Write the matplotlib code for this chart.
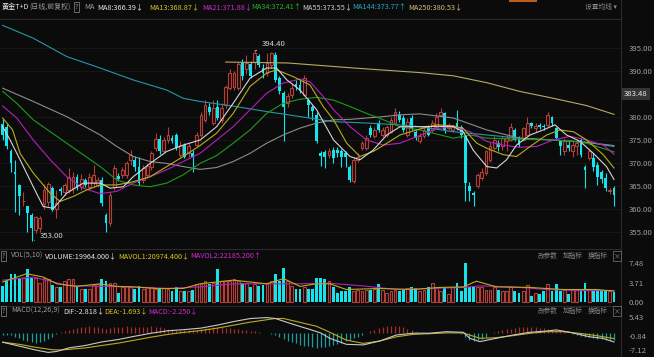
import matplotlib
matplotlib.use("Agg")
import matplotlib.pyplot as plt
from matplotlib.lines import Line2D
import numpy as np

plt.rcParams['font.family'] = ['Noto Sans CJK SC', 'DejaVu Sans']

# ---- daily candles (黄金T+D) ----
opens = [378.5, 377.9, 372.5, 368.1, 365.2, 361.6, 360.5, 358.7, 355.4, 355.8,
         361.0, 361.5, 364.5, 360.0, 364.3, 363.7, 364.0, 364.5, 367.0, 364.8,
         366.3, 364.8, 365.6, 365.2, 366.3, 358.6, 356.9, 364.8, 367.2, 367.4,
         367.4, 370.7, 370.7, 369.2, 366.3, 367.4, 369.2, 373.2, 375.3, 372.5,
         375.0, 375.4, 376.1, 371.8, 374.0, 372.1, 372.1, 374.0, 376.1, 379.4,
         382.3, 378.7, 382.3, 379.4, 382.6, 386.3, 386.6, 386.3, 391.9, 390.4,
         391.5, 392.0, 393.3, 390.7, 389.6, 391.4, 393.6, 388.5, 385.2, 383.0,
         384.8, 387.2, 387.0, 384.8, 383.7, 382.1, 380.5, 372.1, 372.3, 371.8,
         372.8, 372.8, 372.5, 372.1, 369.2, 366.0, 370.7, 373.2, 373.2, 377.6,
         375.9, 378.7, 376.1, 376.1, 376.8, 378.7, 380.5, 379.8, 376.1, 379.8,
         376.8, 374.7, 375.8, 377.9, 377.2, 377.9, 380.5, 380.8, 377.6, 377.2,
         378.7, 377.9, 375.8, 364.9, 363.4, 364.9, 366.7, 367.8, 370.7, 373.2,
         374.3, 373.6, 374.7, 375.0, 377.2, 375.4, 375.0, 376.1, 378.7, 377.6,
         378.2, 378.1, 378.3, 380.0, 377.6, 374.7, 372.5, 374.0, 372.5, 373.7,
         375.0, 369.2, 371.0, 371.0, 369.6, 368.1, 366.7, 363.8, 364.5]
highs = [379.5, 378.5, 373.0, 370.7, 365.5, 363.7, 360.6, 359.0, 358.5, 358.5,
         365.5, 365.8, 365.0, 364.0, 364.8, 365.7, 368.8, 368.0, 367.5, 367.6,
         366.7, 367.8, 369.6, 367.0, 367.0, 359.0, 363.7, 369.6, 367.8, 369.2,
         370.5, 372.8, 371.5, 371.4, 369.5, 370.0, 372.5, 376.5, 376.0, 375.7,
         377.9, 376.0, 376.5, 374.7, 374.3, 374.3, 372.8, 376.8, 381.2, 383.7,
         383.0, 383.7, 383.7, 383.0, 387.0, 390.4, 390.0, 392.0, 392.6, 393.6,
         392.3, 394.4, 393.8, 391.5, 393.9, 394.2, 394.3, 389.0, 385.6, 385.2,
         387.4, 388.0, 388.1, 389.2, 384.2, 382.6, 381.2, 372.6, 372.8, 373.2,
         373.5, 373.5, 373.0, 372.6, 369.6, 371.4, 372.1, 374.7, 376.1, 378.3,
         377.9, 379.4, 377.9, 378.3, 380.1, 381.9, 381.4, 380.5, 379.8, 380.5,
         377.2, 376.5, 377.9, 378.3, 379.4, 380.8, 381.9, 381.2, 378.7, 378.3,
         381.6, 378.3, 376.1, 365.9, 363.8, 367.7, 368.8, 372.8, 374.6, 375.8,
         375.0, 375.8, 376.1, 378.7, 377.6, 375.8, 377.9, 380.1, 379.0, 378.7,
         378.7, 378.5, 381.2, 380.3, 377.9, 375.0, 375.4, 374.7, 375.0, 375.0,
         375.4, 369.6, 372.8, 372.1, 370.3, 368.5, 367.8, 364.5, 364.9]
lows = [375.0, 373.0, 368.0, 359.4, 358.7, 360.5, 355.0, 353.0, 354.7, 355.0,
        360.0, 360.5, 359.5, 358.0, 363.0, 363.0, 363.4, 363.5, 364.0, 364.2,
        364.8, 364.0, 364.8, 364.7, 360.5, 355.0, 356.2, 364.2, 366.0, 366.8,
        366.8, 369.6, 368.3, 365.2, 365.6, 366.8, 368.5, 372.5, 372.0, 372.1,
        374.3, 374.3, 372.8, 371.4, 371.0, 371.4, 368.1, 373.6, 375.7, 379.0,
        380.5, 378.3, 379.4, 378.7, 382.0, 385.9, 386.0, 385.9, 388.0, 389.3,
        388.5, 390.5, 391.0, 388.6, 388.9, 390.7, 387.6, 385.0, 374.7, 382.3,
        384.2, 386.0, 385.2, 384.5, 380.1, 379.4, 374.3, 369.3, 368.8, 371.0,
        370.0, 371.4, 369.2, 369.2, 365.8, 365.6, 370.3, 372.8, 372.8, 375.7,
        375.4, 376.8, 375.7, 375.7, 376.5, 378.3, 379.0, 376.8, 375.7, 377.2,
        375.0, 374.3, 375.4, 375.8, 376.8, 377.6, 380.1, 376.5, 377.2, 376.8,
        377.2, 375.4, 361.6, 361.6, 360.5, 364.5, 366.3, 367.4, 370.3, 372.8,
        372.5, 372.8, 372.5, 374.7, 374.7, 373.4, 374.7, 375.8, 377.6, 376.8,
        377.4, 377.2, 377.9, 378.0, 375.0, 371.8, 371.8, 372.5, 371.4, 371.8,
        371.4, 364.5, 370.7, 368.2, 365.2, 365.6, 363.8, 363.2, 360.5]
closes = [376.0, 373.6, 370.0, 367.6, 362.7, 361.8, 359.0, 355.8, 358.3, 357.9,
          364.0, 365.3, 359.8, 361.2, 363.8, 365.2, 367.0, 367.0, 364.5, 366.6,
          365.2, 367.0, 367.4, 366.3, 361.2, 356.9, 363.0, 368.9, 366.5, 368.5,
          369.9, 371.7, 369.2, 365.6, 368.8, 369.4, 372.1, 375.3, 372.5, 375.0,
          376.0, 374.7, 373.2, 374.0, 371.4, 373.6, 371.4, 376.1, 380.5, 382.6,
          381.2, 381.9, 379.8, 381.9, 386.6, 389.6, 389.6, 391.5, 389.0, 391.7,
          389.0, 394.0, 391.4, 389.6, 391.7, 393.9, 388.1, 385.6, 382.3, 384.6,
          386.3, 386.6, 385.6, 388.5, 382.7, 381.4, 374.7, 371.5, 371.4, 372.5,
          371.0, 372.1, 371.4, 371.4, 366.3, 370.7, 371.4, 374.3, 375.4, 376.1,
          377.2, 377.2, 377.2, 377.9, 379.4, 381.2, 379.4, 377.2, 379.0, 377.6,
          375.4, 375.8, 377.2, 376.1, 378.7, 380.1, 381.2, 377.2, 378.3, 377.9,
          377.6, 376.1, 365.6, 363.8, 363.0, 367.4, 368.1, 372.5, 373.6, 375.0,
          373.4, 375.4, 375.4, 377.9, 375.0, 373.9, 377.6, 378.7, 378.1, 378.1,
          377.8, 377.8, 380.5, 378.7, 375.4, 373.6, 374.7, 373.2, 374.0, 374.4,
          371.8, 368.5, 372.5, 369.2, 367.0, 366.5, 364.5, 364.2, 363.1]

# volume, in units of 10k
volume = [3.1, 4.0, 5.3, 5.3, 4.7, 4.6, 6.3, 4.7, 4.7, 3.7,
          4.7, 4.4, 3.3, 2.8, 2.8, 4.0, 4.4, 4.4, 2.8, 2.5,
          2.5, 2.5, 3.3, 3.4, 4.4, 4.0, 3.7, 3.7, 1.8, 2.8,
          3.1, 2.8, 2.5, 3.1, 2.5, 2.8, 2.8, 2.5, 2.6, 2.6,
          2.5, 2.2, 2.8, 2.2, 2.1, 2.2, 2.4, 3.4, 3.4, 4.0,
          3.4, 3.7, 6.3, 4.0, 4.0, 4.0, 4.4, 4.0, 3.7, 3.7,
          2.8, 3.4, 3.1, 3.2, 3.4, 4.0, 5.3, 4.0, 6.6, 4.0,
          3.1, 2.5, 2.5, 2.8, 2.5, 2.5, 4.7, 4.7, 4.4, 4.0,
          2.8, 1.8, 2.2, 2.1, 2.8, 2.1, 2.4, 2.1, 2.4, 2.4,
          2.5, 3.5, 2.4, 1.8, 2.1, 2.4, 2.1, 2.4, 2.6, 2.9,
          2.6, 2.1, 2.4, 2.8, 3.7, 2.8, 2.2, 2.6, 1.5, 2.8,
          3.7, 2.1, 7.5, 2.9, 3.1, 2.8, 2.9, 2.4, 2.4, 2.9,
          2.4, 2.2, 2.1, 2.8, 2.1, 1.8, 2.2, 3.2, 1.2, 1.8,
          1.5, 2.2, 3.4, 2.2, 3.4, 2.1, 2.4, 1.5, 2.4, 2.4,
          2.2, 3.7, 2.4, 2.4, 2.4, 2.2, 2.2, 2.1, 2.0]

macd_hist = [-0.4, -0.5, -0.6,
             -1.0, -1.5, -2.0, -2.5, -2.9, -3.0, -2.8, -2.4, -1.8, -1.0,
             -0.3,
             0.4, 0.9, 1.3, 1.6, 1.9, 2.1, 2.3, 2.4, 2.3, 2.1, 1.8, 1.6,
             1.8, 2.0, 2.2, 2.3, 2.4, 2.3, 2.2, 2.0, 2.1, 2.3, 2.4, 2.2, 2.0, 1.8, 1.6,
             1.4, 1.3, 1.2, 1.1, 1.0, 1.1, 1.3, 1.5, 1.7, 1.9, 2.0, 2.1, 2.0, 1.9, 1.8,
             1.6, 1.5, 1.3, 1.1, 0.9, 0.7, 0.5, 0.3, 0.1, -0.1,
             -0.6, -1.2, -1.8, -2.4, -2.9, -3.3, -3.7, -4.0, -4.3, -4.5, -4.7, -4.6, -4.4, -4.2,
             -3.8, -3.4, -3.0, -2.5, -2.0, -1.5, -1.0, -0.5,
             0.3, 0.8, 1.3, 1.8, 2.2, 2.5, 2.6, 2.6, 2.4, 2.0, 1.5, 1.0, 0.6,
             0.3, 0.2, -0.1, 0.2, 0.3, 0.4, 0.2, 0.1, 0.2, 0.1, -0.2,
             -1.2, -2.0, -2.4, -2.3, -1.8, -1.0,
             0.2, 0.5, 0.8, 1.1, 1.4, 1.6, 1.8, 2.0, 2.1, 2.2, 2.2, 2.1, 1.9, 1.7, 1.5, 1.3, 1.0, 0.7, 0.4, 0.1,
             -0.2, -0.4, -0.7, -1.0, -1.2, -1.5, -1.7, -1.9, -2.0, -2.1, -2.25]

# moving average lines (candle index, value)
ma8_x = [0, 1.8, 4.2, 7.4, 9.8, 12.3, 15.5, 19.5, 23.6, 26, 29.2, 31.6, 35.7, 39.7, 43.7, 47.8,
         51.8, 55.8, 59.9, 63.9, 66.3, 68.8, 72, 76, 80.1, 84.1, 86.5, 89.7, 93, 96.2, 101, 105,
         109.1, 111.5, 113.9, 117.2, 119.6, 122, 124.4, 127.7, 130.9, 133.7, 136.5, 139.8, 143, 146.2, 148]
ma8_y = [377.9, 375.0, 370.7, 364.8, 360.5, 360.1, 363.4, 365.6, 365.6, 364.5, 364.8, 367.0, 369.9, 372.5, 373.9, 375.0,
         377.9, 383.0, 388.5, 390.7, 390.7, 388.1, 385.9, 381.6, 375.0, 371.4, 370.7, 372.8, 376.1, 377.9, 377.9, 378.0,
         377.9, 376.8, 372.8, 369.2, 368.9, 370.7, 373.9, 376.1, 377.2, 378.3, 376.1, 374.7, 372.1, 369.2, 366.4]
ma13_x = [0, 2.4, 4.2, 7.4, 11.5, 13.9, 17.1, 20.3, 23.6, 27.6, 31.6, 35.7, 39.7, 43.7, 47.8, 51.8, 55.8,
          59.9, 63.9, 66.3, 70.4, 74.4, 77.6, 80.1, 83.3, 86.5, 89.7, 93, 96.2, 101, 105.1, 109.1, 111.5,
          114.8, 117.2, 121.2, 124.4, 127.7, 131.7, 134.9, 138.2, 141.4, 145.4, 148]
ma13_y = [379.8, 377.2, 372.1, 367.8, 363.4, 361.6, 362.7, 364.1, 365.2, 365.2, 365.9, 367.0, 369.2, 371.4, 373.8, 376.5, 380.8,
          386.7, 389.6, 390.3, 388.8, 387.0, 382.3, 379.4, 374.3, 371.4, 372.5, 374.3, 376.1, 377.4, 378.3, 378.1, 377.5,
          374.3, 373.2, 371.8, 371.4, 373.6, 376.1, 377.2, 376.8, 375.0, 371.8, 368.9]
ma21_x = [0, 3.4, 7.4, 11.5, 15.5, 19.5, 23.6, 27.6, 31.6, 35.7, 39.7, 43.7, 47.8, 51.8, 55.8, 59.9, 63.9,
          67.9, 72, 74.4, 77.6, 80.1, 84.1, 88.1, 92.2, 96.2, 101, 105.1, 109.1, 113.2, 117.2, 121.2, 125.2,
          129.3, 133.3, 137.4, 141.4, 145.4, 148]
ma21_y = [382.4, 379.8, 375.0, 370.7, 367.0, 364.5, 363.3, 363.8, 365.6, 367.0, 368.5, 370.3, 372.1, 375.0, 377.9, 381.6, 385.2,
          387.4, 388.3, 387.7, 384.5, 381.6, 377.9, 375.0, 373.9, 374.3, 376.0, 377.5, 377.9, 376.8, 374.7, 373.9, 373.4,
          373.6, 375.0, 375.8, 375.0, 373.9, 371.9]
ma34_x = [0, 3.4, 7.4, 15.5, 23.6, 27.6, 31.6, 35.7, 39.7, 43.7, 47.8, 51.8, 55.8, 59.9, 63.9, 67.9, 72,
          76, 80.1, 84.1, 88.1, 92.2, 96.2, 101, 105.1, 109.1, 113.2, 117.2, 125.2, 133.3, 137.4, 141.4, 148]
ma34_y = [385.6, 383.0, 379.4, 374.3, 369.2, 366.3, 365.2, 364.8, 365.6, 367.4, 369.9, 371.6, 374.3, 377.2, 380.8, 383.0, 383.9,
          384.3, 383.7, 382.3, 380.8, 379.4, 377.9, 377.2, 376.3, 375.4, 376.1, 375.4, 375.2, 375.0, 374.8, 374.3, 372.4]
ma55_x = [0, 7.4, 15.5, 23.6, 27.6, 31.6, 35.7, 39.7, 43.7, 47.8, 51.8, 55.8, 59.9, 63.9, 67.9, 72, 76,
          80.1, 84.1, 88.1, 92.2, 96.2, 101, 109.1, 117.2, 125.2, 133.3, 141.4, 148]
ma55_y = [386.3, 383.4, 380.1, 376.1, 373.6, 371.4, 370.3, 369.9, 369.2, 368.6, 369.0, 370.3, 372.1, 374.3, 376.1, 377.6, 378.7,
          379.4, 379.5, 379.8, 380.1, 380.5, 380.7, 379.8, 377.2, 375.4, 375.0, 374.5, 373.6]
ma144_x = [0, 7.4, 15.5, 23.6, 31.6, 39.7, 43.7, 47.8, 55.8, 63.9, 72, 80.1, 88.1, 96.2, 101, 109.1, 117.2,
           125.2, 133.3, 141.4, 148]
ma144_y = [400.0, 397.2, 393.2, 390.7, 388.1, 385.9, 384.1, 383.4, 382.4, 381.2, 380.1, 379.0, 378.7, 378.3, 377.9, 376.8, 376.1,
           375.4, 375.0, 374.5, 373.8]
ma250_x = [54, 69, 85, 101, 109.1, 117.2, 125.2, 133.3, 141.4, 148]
ma250_y = [392.0, 391.8, 390.7, 389.7, 389.0, 387.5, 385.6, 384.1, 382.5, 380.6]

mavol1_x = [0, 5.8, 9.8, 13.1, 17.9, 23.6, 27.6, 31.6, 37.3, 43.7, 47.8, 51.8, 55.8, 59.9, 63.9,
            68, 72, 76, 79.2, 83.2, 91.3, 99.4, 105.8, 111.5, 114.7, 119.6, 127.6, 135.6, 143.7, 148]
mavol1_y = [3.85, 5.45, 4.8, 3.5, 3.0, 3.5, 3.0, 2.9, 2.6, 2.6, 3.5, 3.85, 4.2, 3.85, 3.5,
            4.5, 3.0, 3.5, 3.5, 2.4, 2.6, 2.4, 2.8, 2.9, 4.0, 2.9, 2.8, 2.4, 2.4, 2.1]
mavol2_x = [0, 7.4, 15.5, 23.6, 31.6, 39.7, 47.8, 55.8, 63.9, 72, 79.2, 87.3, 95.3, 103.4, 111.5,
            115.5, 123.6, 131.6, 139.7, 148]
mavol2_y = [4.2, 4.8, 3.2, 3.0, 2.9, 2.6, 2.9, 3.5, 3.5, 3.5, 3.6, 3.1, 2.4, 2.6, 2.8,
            3.1, 2.9, 2.4, 2.2, 2.22]

dif_x = [0, 4, 8, 11, 13, 16, 20, 24, 28, 32, 36, 40, 44, 48, 52, 56, 60, 64, 66, 70, 74, 77,
         79.2, 83.2, 87.3, 91.3, 95.3, 99.4, 103.4, 107.4, 111.5, 113.1, 115.5, 119.5, 123.6,
         127.6, 131.6, 134, 137.3, 142.1, 145.3, 148]
dif_y = [-2.9, -4.2, -5.5, -6.3, -6.0, -4.8, -4.0, -2.8, -2.0, -0.9, 0.1, 0.9, 1.3, 1.8, 2.8, 4.0, 5.0, 5.3, 5.0, 3.2, 1.5, 0.2,
         -1.6, -3.6, -3.8, -2.5, -0.5, 0.1, 0.1, 0.6, 0.4, -1.6, -2.7, -1.6, -0.5,
         0.4, 0.8, 1.2, 0.4, -1.1, -1.6, -2.82]
dea_x = [0, 4, 8, 12, 14, 16, 20, 24, 28, 32, 36, 40, 44, 48, 52, 56, 60, 64, 66, 68, 72, 76,
         79.2, 83.2, 87.3, 91.3, 95.3, 99.4, 103.4, 107.4, 111.5, 115.5, 119.5, 123.6, 127.6,
         131.6, 135.6, 139.7, 143.7, 148]
dea_y = [-2.9, -3.6, -4.6, -5.4, -5.5, -5.3, -4.8, -4.0, -3.2, -2.2, -1.2, -0.3, 0.4, 1.0, 1.8, 2.8, 3.8, 4.6, 5.0, 5.0, 3.7, 2.4,
         0.4, -2.2, -3.3, -2.5, -1.1, -0.3, -0.05, 0.2, 0.2, -1.6, -1.4, -0.7, 0.06,
         0.6, 0.6, 0.06, -0.7, -1.69]

price_ticks = [355, 360, 365, 370, 375, 380, 390, 395]
vol_ticks = [0.0, 3.71, 7.48]
macd_ticks = [-7.12, -0.84, 5.43]

BG = '#0b0b0b'
CYAN = '#14e4ee'
RED = '#b0413a'
RED_FILL = '#1e0b0a'
TICK = '#a0a0a0'
LINE = '#2a2a2a'
HDR = 5.2

W, H = 654, 357
fig = plt.figure(figsize=(W / 100, H / 100), dpi=100, facecolor=BG)


def px_axes(x0, y0, x1, y1):
    a = fig.add_axes([x0 / W, 1 - y1 / H, (x1 - x0) / W, (y1 - y0) / H])
    a.set_facecolor(BG)
    for s in a.spines.values():
        s.set_visible(False)
    a.set_xticks([])
    a.yaxis.tick_right()
    a.tick_params(axis='y', length=0, pad=5.5, labelsize=5.6, labelcolor=TICK)
    a.set_xlim(-0.654, 149.7)
    return a


def ftext(x, y, s, color, size=HDR, **kw):
    fig.text(x / W, 1 - y / H, s, color=color, fontsize=size, va='center', ha=kw.pop('ha', 'left'), **kw)


o, h, l, c = (np.array(v) for v in (opens, highs, lows, closes))
x = np.arange(len(c))
up = c >= o
blo = np.minimum(o, c)
bhi = np.maximum(o, c)
bh = np.maximum(bhi - blo, 0.15)

# ---- price panel ----
ax = px_axes(0, 20, 621, 248)
ax.set_ylim(351.45, 401.17)
ax.set_yticks(price_ticks)
ax.set_yticklabels([f'{t:.2f}' for t in price_ticks])
ax.yaxis.grid(True, color='#191919', lw=0.6)
ax.set_axisbelow(True)

ax.vlines(x[up], l[up], blo[up], color=RED, lw=0.8)
ax.vlines(x[up], bhi[up], h[up], color=RED, lw=0.8)
ax.vlines(x[~up], l[~up], h[~up], color=CYAN, lw=0.8)
ax.bar(x[up], bh[up], bottom=blo[up], width=0.68, facecolor=RED_FILL, edgecolor=RED, lw=0.8)
ax.bar(x[~up], bh[~up], bottom=blo[~up], width=0.68, color=CYAN, lw=0)

ma_lines = [(ma250_x, ma250_y, '#b5aa6a'), (ma144_x, ma144_y, '#2596a8'), (ma55_x, ma55_y, '#8c8c8c'),
            (ma34_x, ma34_y, '#1e9a1e'), (ma21_x, ma21_y, '#b81fb8'), (ma13_x, ma13_y, '#b8ad1c'),
            (ma8_x, ma8_y, '#d5d5d5')]
for mx, my, col in ma_lines:
    ax.plot(mx, my, color=col, lw=0.8)

ax.annotate('394.40', xy=(61, 394.4), xytext=(62.8, 395.9), color='#d8d8d8', fontsize=5.6,
            va='center', ha='left', arrowprops=dict(arrowstyle='-', color='#d8d8d8', lw=0.6))
ax.annotate('353.00', xy=(7, 353.0), xytext=(9.0, 354.05), color='#d8d8d8', fontsize=5.6,
            va='center', ha='left', arrowprops=dict(arrowstyle='-', color='#d8d8d8', lw=0.6))

# ---- volume panel ----
axv = px_axes(0, 258, 621, 304)
axv.set_ylim(-0.385, 8.46)
axv.set_yticks(vol_ticks)
axv.set_yticklabels([f'{t:.2f}' for t in vol_ticks])
vol = np.array(volume)
axv.bar(x[up], vol[up], width=0.68, facecolor=RED_FILL, edgecolor=RED, lw=0.8)
axv.bar(x[~up], vol[~up], width=0.68, color=CYAN, lw=0)
axv.plot(mavol2_x, mavol2_y, color='#b81fb8', lw=0.8)
axv.plot(mavol1_x, mavol1_y, color='#b8ad1c', lw=0.8)

# ---- MACD panel ----
axm = px_axes(0, 316, 621, 357)
axm.set_ylim(-7.83, 5.83)
axm.set_yticks(macd_ticks)
axm.set_yticklabels([f'{t:.2f}' for t in macd_ticks])
axm.get_yticklabels()[0].set_va('bottom')
hist = np.array(macd_hist)
axm.vlines(x, 0, hist, colors=np.where(hist >= 0, '#a52d2d', '#1d9c9c'), lw=0.9)
axm.plot(dea_x, dea_y, color='#b8ad1c', lw=0.8)
axm.plot(dif_x, dif_y, color='#c8c8c8', lw=0.8)

# ---- frame lines ----
for yy in (18.5, 249, 306):
    fig.add_artist(Line2D([0, 621 / W], [1 - yy / H] * 2, color=LINE, lw=0.8))
fig.add_artist(Line2D([621 / W] * 2, [0, 1], color=LINE, lw=0.8))
fig.add_artist(Line2D([510 / W, 536 / W], [0.997, 0.997], color='#c05a1a', lw=1.5))

# ---- headers ----
MAH = 5.25
qbox = dict(boxstyle='square,pad=0.12', fc='none', ec='#777777', lw=0.6)
ftext(2, 7, '黄金T+D', '#ececec', size=5.1)
ftext(29.5, 7, '(日线,前复权)', '#9a9a9a', size=5.0)
ftext(75, 7, '?', '#9a9a9a', size=4.8, bbox=qbox)
ftext(84, 7, 'MA', '#9a9a9a', size=MAH)
ftext(97, 7, 'MA8:366.39↓', '#e6e6e6', size=MAH)
ftext(149, 7, 'MA13:368.87↓', '#d6c81e', size=MAH)
ftext(202, 7, 'MA21:371.88↓', '#d12ad1', size=MAH)
ftext(251, 7, 'MA34:372.41↑', '#22b42e', size=MAH)
ftext(302, 7, 'MA55:373.55↓', '#cfcfcf', size=MAH)
ftext(352, 7, 'MA144:373.77↑', '#22aac4', size=MAH)
ftext(408, 7, 'MA250:380.53↓', '#d2c27e', size=MAH)
ftext(585, 7, '设置均线 ▾', '#8a8a8a', size=4.9)

ftext(2, 256, '?', '#9a9a9a', size=4.8, bbox=qbox)
ftext(11, 256, 'VOL(5,10)', '#9a9a9a')
ftext(45, 256, 'VOLUME:19964.000↓', '#e6e6e6')
ftext(118, 256, 'MAVOL1:20974.400↓', '#d6c81e')
ftext(190, 256, 'MAVOL2:22185.200↑', '#d12ad1')

ftext(2, 311, '?', '#9a9a9a', size=4.8, bbox=qbox)
ftext(11, 311, 'MACD(12,26,9)', '#9a9a9a')
ftext(63, 311, 'DIF:-2.818↓', '#e6e6e6')
ftext(104, 311, 'DEA:-1.693↓', '#d6c81e')
ftext(148, 311, 'MACD:-2.250↓', '#d12ad1')

for yy in (256, 311):
    ftext(538, yy, '改参数', '#8a8a8a', size=4.8)
    ftext(563, yy, '加指标', '#8a8a8a', size=4.8)
    ftext(588, yy, '换指标', '#8a8a8a', size=4.8)
    ftext(617, yy, '×', '#8a8a8a', size=4.8, ha='center',
          bbox=dict(boxstyle='square,pad=0.1', fc='none', ec='#666666', lw=0.6))

# current price tag
ftext(636, 94, '383.48', '#e8e8e8', size=5.6, ha='center',
      bbox=dict(boxstyle='square,pad=0.25', fc='#353535', ec='none'))

fig.savefig('out.png', dpi=100, facecolor=BG)
